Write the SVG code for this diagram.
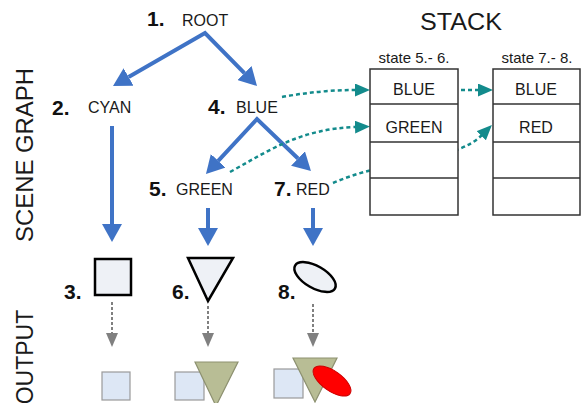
<svg xmlns="http://www.w3.org/2000/svg" width="582" height="403" viewBox="0 0 582 403">
<style>
text{font-family:"Liberation Sans",Arial,sans-serif;fill:#1a1a1a}
.num{font-weight:bold;font-size:21px;fill:#111}
.lbl{font-size:16px}
.side{font-size:23px}
.stk{font-size:16px;text-anchor:middle}
.blue{fill:none;stroke:#3f73c6;stroke-width:4}
.teal{fill:none;stroke:#138b8c;stroke-width:2.5;stroke-dasharray:4 3}
.gray{fill:none;stroke:#808080;stroke-width:2;stroke-dasharray:3 2}
.box{fill:#fff;stroke:#333;stroke-width:1.5}
.shape{fill:#eef1f6;stroke:#000;stroke-width:2.5}
.osq{fill:#dde7f5;stroke:#9a9a9a;stroke-width:1.2}
.otri{fill:#b8bd95;stroke:#8d9170;stroke-width:1.2}
</style>
<defs>
<marker id="bh" markerUnits="userSpaceOnUse" viewBox="0 0 18 20" refX="0" refY="10" markerWidth="18" markerHeight="20" orient="auto-start-reverse"><path d="M0,0 L18,10 L0,20 z" fill="#3f73c6"/></marker>
<marker id="th" markerUnits="userSpaceOnUse" viewBox="0 0 15 13" refX="1" refY="6.5" markerWidth="15" markerHeight="13" orient="auto"><path d="M0,0 L15,6.5 L0,13 z" fill="#138b8c"/></marker>
<marker id="gh" markerUnits="userSpaceOnUse" viewBox="0 0 14 12" refX="0" refY="6" markerWidth="14" markerHeight="12" orient="auto"><path d="M0,0 L14,6 L0,12 z" fill="#808080"/></marker>
</defs>
<rect width="582" height="403" fill="#fff"/>

<text class="side" transform="translate(33,155) rotate(-90)" text-anchor="middle" textLength="174" lengthAdjust="spacingAndGlyphs">SCENE GRAPH</text>
<text class="side" transform="translate(33,357) rotate(-90)" text-anchor="middle">OUTPUT</text>

<g id="connectors">
<path class="blue" d="M128.6,77 L205,33 L244.4,73.1" marker-start="url(#bh)" marker-end="url(#bh)"/>
<path class="blue" d="M218.2,160.8 L257,119 L298,158.5" marker-start="url(#bh)" marker-end="url(#bh)"/>
<line class="blue" x1="112" y1="126" x2="112" y2="224" marker-end="url(#bh)"/>
<line class="blue" x1="208" y1="208" x2="208" y2="228" marker-end="url(#bh)"/>
<line class="blue" x1="313" y1="208" x2="313" y2="228" marker-end="url(#bh)"/>
<path class="teal" d="M282,97 Q320,90 356,90" marker-end="url(#th)"/>
<path class="teal" d="M447,90 L479,90" marker-end="url(#th)"/>
<path class="teal" d="M230,172 C270,150 300,129 356,127" marker-end="url(#th)"/>
<path class="teal" d="M333,183 C390,158 455,162 482,135" marker-end="url(#th)"/>
<line class="gray" x1="112" y1="302" x2="112" y2="333" marker-end="url(#gh)"/>
<line class="gray" x1="208" y1="306" x2="208" y2="333" marker-end="url(#gh)"/>
<line class="gray" x1="313" y1="304" x2="313" y2="333" marker-end="url(#gh)"/>
</g>

<g id="root"><text class="num" x="147" y="26">1.</text><text class="lbl" x="182" y="26">ROOT</text></g>
<g id="cyan"><text class="num" x="52" y="115">2.</text><text class="lbl" x="88" y="113">CYAN</text></g>
<g id="blue"><text class="num" x="208" y="114">4.</text><text class="lbl" x="236" y="113">BLUE</text></g>
<g id="green"><text class="num" x="149" y="196">5.</text><text class="lbl" x="176" y="195">GREEN</text></g>
<g id="red"><text class="num" x="274" y="196">7.</text><text class="lbl" x="296" y="195">RED</text></g>

<g id="square"><rect class="shape" x="95" y="259" width="36" height="36"/><text class="num" x="64" y="299">3.</text></g>
<g id="triangle"><path class="shape" d="M188,258 L233,258 L208,301 z" stroke-linejoin="miter"/><text class="num" x="172" y="299">6.</text></g>
<g id="ellipse"><ellipse class="shape" cx="315" cy="277" rx="23" ry="11" transform="rotate(30 315 277)"/><text class="num" x="278" y="299">8.</text></g>

<g id="out1"><rect class="osq" x="102" y="372" width="28" height="28"/></g>
<g id="out2"><rect class="osq" x="175" y="372" width="29" height="28"/><path class="otri" d="M195,362 L238,362 L216,406 z"/></g>
<g id="out3"><rect class="osq" x="274" y="369" width="29" height="29"/><path class="otri" d="M293,358 L337,358 L315,402 z"/><ellipse cx="332" cy="381" rx="22" ry="10" transform="rotate(35 332 381)" fill="#ff0000" stroke="#cc0000" stroke-width="1"/></g>

<g id="stack">
<text x="420" y="30" font-size="24" textLength="82" lengthAdjust="spacingAndGlyphs">STACK</text>
<g id="stack1">
<text x="414" y="63" font-size="15" text-anchor="middle">state 5.- 6.</text>
<rect class="box" x="370" y="69" width="88" height="146"/>
<line class="box" x1="370" y1="104" x2="458" y2="104"/>
<line class="box" x1="370" y1="142" x2="458" y2="142"/>
<line class="box" x1="370" y1="178" x2="458" y2="178"/>
<text class="stk" x="414" y="95">BLUE</text>
<text class="stk" x="414" y="133">GREEN</text>
</g>
<g id="stack2">
<text x="537" y="63" font-size="15" text-anchor="middle">state 7.- 8.</text>
<rect class="box" x="493" y="69" width="87" height="146"/>
<line class="box" x1="493" y1="104" x2="580" y2="104"/>
<line class="box" x1="493" y1="142" x2="580" y2="142"/>
<line class="box" x1="493" y1="178" x2="580" y2="178"/>
<text class="stk" x="536" y="95">BLUE</text>
<text class="stk" x="536" y="133">RED</text>
</g>
</g>
</svg>
